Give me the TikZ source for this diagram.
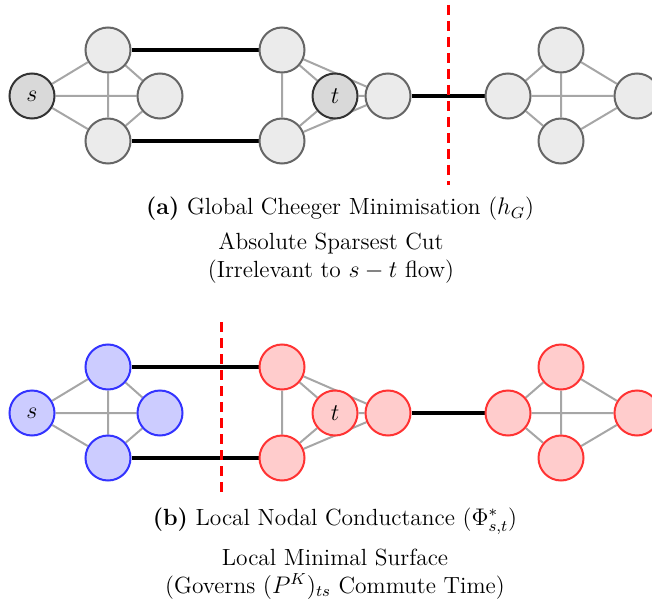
\documentclass[tikz,border=0pt]{standalone}
\pgfdeclarelayer{background}
\pgfsetlayers{background,main}
\begin{document}
\begin{tikzpicture}[x=0.5pt,y=-0.5pt,
 every node/.style={font=\fontsize{11.7}{14}\selectfont},
 nd/.style={circle,minimum size=22.5pt,inner sep=0pt,draw=black!60,fill=black!8,line width=1pt},
 st/.style={nd,draw=black!80,fill=black!15},
 bl/.style={nd,draw=blue!80,fill=blue!20},
 rd/.style={nd,draw=red!80,fill=red!20},
 ge/.style={draw=black!35,line width=1pt},
 be/.style={draw=black,line width=1.7pt},
 cut/.style={draw=red,line width=1.5pt,dash pattern=on 5pt off 3pt}]
\useasboundingbox (0,0) rectangle (652,604);
% ---------- top graph ----------
\node[st] (s1) at (32,96) {$s$};
\node[nd] (a1) at (108,50) {};
\node[nd] (b1) at (160,96) {};
\node[nd] (c1) at (108,141) {};
\node[nd] (dt1) at (282,50) {};
\node[nd] (db1) at (282,141) {};
\node[st] (t1) at (335,96) {$t$};
\node[nd] (e1) at (388,96) {};
\node[nd] (f1) at (508,96) {};
\node[nd] (gt1) at (561,50) {};
\node[nd] (gb1) at (561,141) {};
\node[nd] (h1) at (637,96) {};
\begin{pgfonlayer}{background}
\draw[ge] (s1)--(a1) (s1)--(b1) (s1)--(c1) (a1)--(c1) (a1)--(b1) (c1)--(b1);
\draw[ge] (dt1)--(db1) (dt1)--(t1) (db1)--(t1) (dt1)--(e1) (db1)--(e1) (t1)--(e1);
\draw[ge] (f1)--(gt1) (f1)--(gb1) (f1)--(h1) (gt1)--(gb1) (gt1)--(h1) (gb1)--(h1);
\draw[be] (a1)--(dt1) (c1)--(db1) (e1)--(f1);
\end{pgfonlayer}
\coordinate (cut1a) at (448,5);
\coordinate (cut1b) at (448,185);
\draw[cut] (cut1a)--(cut1b);
\node (capa) at (340,209) {\textbf{(a)} Global Cheeger Minimisation ($h_G$)};
\node[align=center] (suba) at (331,258) {Absolute Sparsest Cut\\(Irrelevant to $s-t$ flow)};
% ---------- bottom graph ----------
\node[bl] (s2) at (32,413) {$s$};
\node[bl] (a2) at (108,367) {};
\node[bl] (b2) at (160,413) {};
\node[bl] (c2) at (108,458) {};
\node[rd] (dt2) at (282,367) {};
\node[rd] (db2) at (282,458) {};
\node[rd] (t2) at (335,413) {$t$};
\node[rd] (e2) at (388,413) {};
\node[rd] (f2) at (508,413) {};
\node[rd] (gt2) at (561,367) {};
\node[rd] (gb2) at (561,458) {};
\node[rd] (h2) at (637,413) {};
\begin{pgfonlayer}{background}
\draw[ge] (s2)--(a2) (s2)--(b2) (s2)--(c2) (a2)--(c2) (a2)--(b2) (c2)--(b2);
\draw[ge] (dt2)--(db2) (dt2)--(t2) (db2)--(t2) (dt2)--(e2) (db2)--(e2) (t2)--(e2);
\draw[ge] (f2)--(gt2) (f2)--(gb2) (f2)--(h2) (gt2)--(gb2) (gt2)--(h2) (gb2)--(h2);
\draw[be] (a2)--(dt2) (c2)--(db2) (e2)--(f2);
\end{pgfonlayer}
\coordinate (cut2a) at (221,322);
\coordinate (cut2b) at (221,492);
\draw[cut] (cut2a)--(cut2b);
\node (capb) at (335,521) {\textbf{(b)} Local Nodal Conductance ($\Phi^*_{s,t}$)};
\node[align=center] (subb) at (335,574) {Local Minimal Surface\\(Governs $(P^K)_{ts}$ Commute Time)};
\end{tikzpicture}
\end{document}
